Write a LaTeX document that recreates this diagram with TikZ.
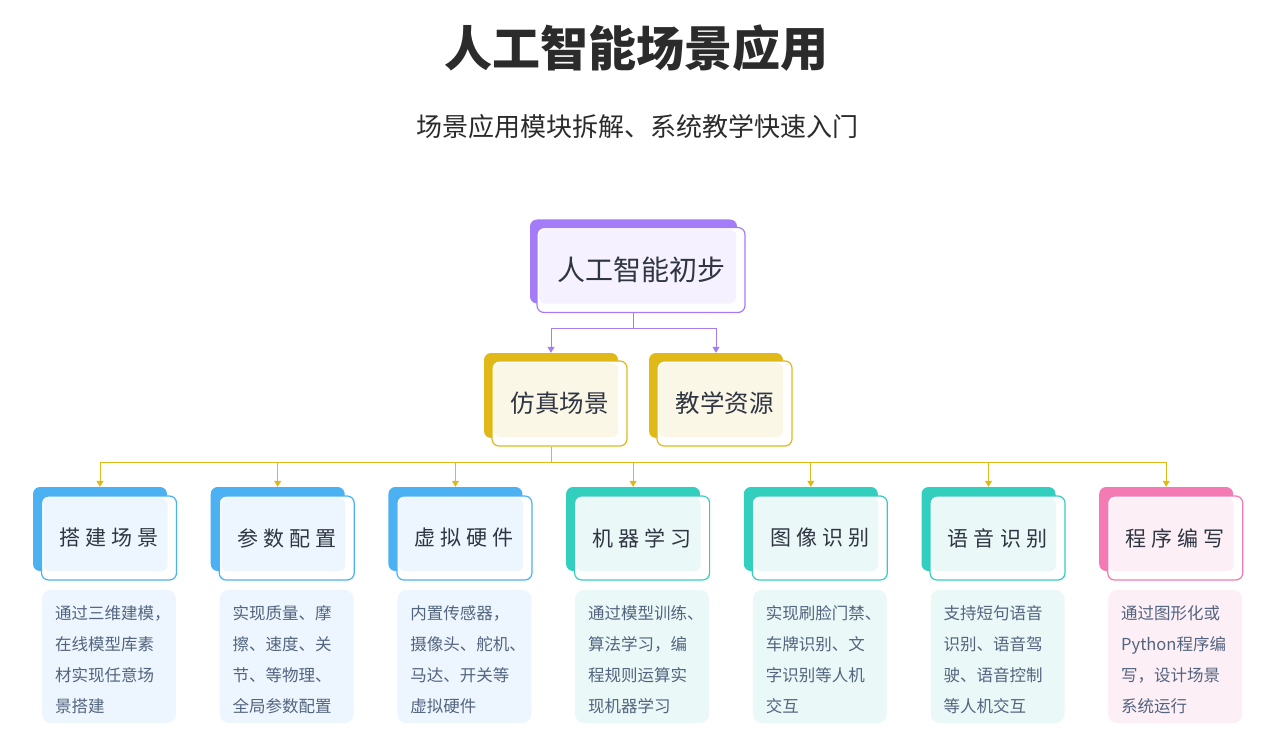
\documentclass[tikz,border=0pt]{standalone}
\usepackage{fontspec}
\setmainfont{Noto Sans CJK SC}
\newfontfamily\cjkspaced[LetterSpace=24]{Noto Sans CJK SC}
\usetikzlibrary{calc,arrows.meta}

\definecolor{titleink}{HTML}{2B2B2B}
\definecolor{ink}{HTML}{2F3542}
\definecolor{desctext}{HTML}{53647F}
\definecolor{aipurple}{HTML}{A47CF8}
\definecolor{aipurplelt}{HTML}{F5F1FE}
\definecolor{simyellow}{HTML}{E0B918}
\definecolor{simyellowlt}{HTML}{FBF7E7}
\definecolor{cblue}{HTML}{4BB1F2}
\definecolor{cbluelt}{HTML}{EDF6FE}
\definecolor{cteal}{HTML}{33CFBE}
\definecolor{ctealLt}{HTML}{EAF8F7}
\definecolor{cpink}{HTML}{F47AB4}
\definecolor{cpinkLt}{HTML}{FDEFF6}

\tikzset{
  backbox/.style={rectangle, rounded corners=7pt, inner sep=0pt,
    minimum width=134pt, minimum height=84pt},
  frontbox/.style={rectangle, rounded corners=7pt, inner sep=0pt,
    minimum width=135pt, minimum height=84pt, line width=1.2pt,
    fill=white, text=ink},
  lightfill/.style={path picture={
    \fill[#1, rounded corners=6pt]
      ([shift={(2,2)}]path picture bounding box.north west) rectangle
      ([shift={(-9,-9)}]path picture bounding box.south east);}},
  desc/.style={rectangle, rounded corners=9pt, inner sep=0pt,
    minimum width=134pt, minimum height=133pt, text width=124pt,
    align=left, font=\fontsize{16.5}{31}\selectfont, text=desctext},
  link/.style={line width=1pt, -{Triangle[width=7pt,length=6pt]}},
}

\begin{document}
\begin{tikzpicture}[x=1pt,y=-1pt]
\useasboundingbox (0,0) rectangle (1273,743);

% Title
\node[font=\fontsize{48}{52}\selectfont\bfseries, text=titleink] (title) at (636,48) {人工智能场景应用};
\node[font=\fontsize{26}{30}\selectfont, text=titleink] (subtitle) at (637,127) {场景应用模块拆解、系统教学快速入门};

% Root
\node[backbox, fill=aipurple, minimum width=207pt] (ai-bg) at (633.5,261.5) {};
\node[frontbox, draw=aipurple, lightfill=aipurplelt, minimum width=208pt, minimum height=85pt,
  font=\fontsize{28}{32}\selectfont] (ai) at (641,270) {人工智能初步};

% Second level
\node[backbox, fill=simyellow, minimum height=85pt] (sim-bg) at (551,395.5) {};
\node[frontbox, draw=simyellow, lightfill=simyellowlt, minimum height=85pt,
  font=\fontsize{24.5}{28}\selectfont] (sim) at (559.5,403.5) {仿真场景};
\node[backbox, fill=simyellow, minimum height=85pt] (res-bg) at (716,395.5) {};
\node[frontbox, draw=simyellow, lightfill=simyellowlt, minimum height=85pt,
  font=\fontsize{24.5}{28}\selectfont] (res) at (724.5,403.5) {教学资源};

% Links from the root
\draw[aipurple, line width=1pt] (ai.south -| ai-bg.south) -- ++(0,15) coordinate (pbus);
\draw[link, aipurple] (pbus) -| (sim-bg.north);
\draw[link, aipurple] (pbus) -| (res-bg.north);

% Links from the simulation node
\draw[simyellow, line width=1pt] (sim.south -| sim-bg.south) -- ++(0,16) coordinate (ybus);

% Third level with descriptions
\foreach \i/\lbl/\col/\lt/\txt in {
  1/搭建场景/cblue/cbluelt/{通过三维建模，\\在线模型库素\\材实现任意场\\景搭建},
  2/参数配置/cblue/cbluelt/{实现质量、摩\\擦、速度、关\\节、等物理、\\全局参数配置},
  3/虚拟硬件/cblue/cbluelt/{内置传感器，\\摄像头、舵机、\\马达、开关等\\虚拟硬件},
  4/机器学习/cteal/ctealLt/{通过模型训练、\\算法学习，编\\程规则运算实\\现机器学习},
  5/图像识别/cteal/ctealLt/{实现刷脸门禁、\\车牌识别、文\\字识别等人机\\交互},
  6/语音识别/cteal/ctealLt/{支持短句语音\\识别、语音驾\\驶、语音控制\\等人机交互},
  7/程序编写/cpink/cpinkLt/{通过图形化或\\Python程序编\\写，设计场景\\系统运行}}
{
  \pgfmathsetmacro\cx{100+(\i-1)*177.7}
  \node[backbox, fill=\col] (c\i-bg) at (\cx,529) {};
  \node[frontbox, draw=\col, lightfill=\lt,
    font=\cjkspaced\fontsize{21}{26}\selectfont] (c\i) at (\cx+9,538) {\lbl};
  \node[desc, fill=\lt] (d\i) at (\cx+9,656.5) {\leftskip=8pt\relax\txt\par\vspace*{-6pt}};
  \draw[link, simyellow] (ybus) -| (c\i-bg.north);
}

\end{tikzpicture}
\end{document}
